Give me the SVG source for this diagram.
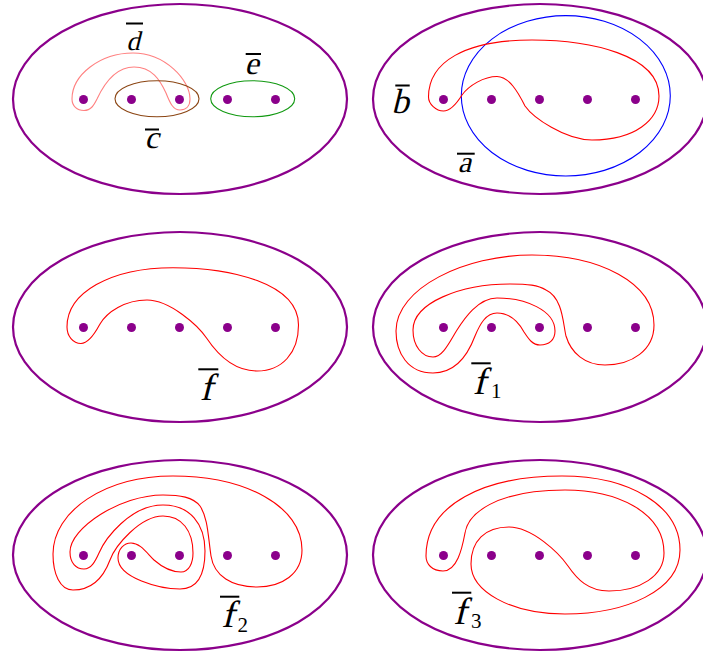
<svg xmlns="http://www.w3.org/2000/svg" xmlns:xlink="http://www.w3.org/1999/xlink" width="703" height="658" viewBox="0 0 703 658">
<style>
.frame{fill:none;stroke:#8B008B;stroke-width:2.2}
.dot{fill:#8B008B}
.red{fill:none;stroke:#FF0000;stroke-width:1.1}
.lbl{font-family:"Liberation Serif","Times New Roman",serif;fill:#000;text-anchor:middle}
.sub{font-family:"Liberation Serif","Times New Roman",serif;font-size:21px;fill:#000}
.bar{fill:#000}
</style>
<defs>
<g id="base">
<ellipse class="frame" cx="180" cy="99" rx="167" ry="95"/>
<circle class="dot" cx="83.5" cy="99.5" r="4.5"/>
<circle class="dot" cx="131.5" cy="99.5" r="4.5"/>
<circle class="dot" cx="179.5" cy="99.5" r="4.5"/>
<circle class="dot" cx="227.5" cy="99.5" r="4.5"/>
<circle class="dot" cx="275.5" cy="99.5" r="4.5"/>
</g>
</defs>
<rect width="703" height="658" fill="#fff"/>

<g id="panel1">
<use xlink:href="#base"/>
<g id="curves1">
<path id="curve-d" fill="none" stroke="#FF8080" stroke-width="1.1" d="M 72,99 C 72,106 77,110.5 84,110.5 C 91,110.5 94,105 97,99 C 104,84 115,67 134,67 C 152,67 160,80 166,93 C 170,103 173,110 180,110 C 186,110 190,106 190,99 C 190,80 165,53 133,53 C 100,53 72,75 72,99 Z"/>
<ellipse id="curve-c" cx="157" cy="98.7" rx="42" ry="18" fill="none" stroke="#8B4513" stroke-width="1.1"/>
<ellipse id="curve-e" cx="252.7" cy="98.7" rx="42" ry="18" fill="none" stroke="#119911" stroke-width="1.1"/>
</g>
<g id="labels1">
<rect class="bar" x="126" y="22.5" width="17" height="2"/>
<text class="lbl" transform="translate(133,50) skewX(-14)" font-size="27">d</text>
<rect class="bar" x="245.7" y="53" width="15.3" height="2"/>
<text class="lbl" transform="translate(251.5,74) skewX(-14)" font-size="32">e</text>
<rect class="bar" x="145" y="128.5" width="14" height="2"/>
<text class="lbl" transform="translate(151.5,148) skewX(-14)" font-size="32">c</text>
</g>
</g>

<g id="panel2" transform="translate(360,0)">
<use xlink:href="#base"/>
<ellipse id="curve-a" cx="205.8" cy="95.8" rx="104.5" ry="80.2" fill="none" stroke="#0000FF" stroke-width="1.1"/>
<path id="curve-b" class="red" d="M 68.5,97 C 68.5,104 76,111 83.5,111 C 90,111 97,103 102,95 C 109,85.3 124,76.5 137,76.5 C 149,76.5 158,92 165,106 C 173,117.5 205,140 232,140 C 275,140 299,120 299,96 C 299,55 230,40 172,40 C 105,40 68.5,62 68.5,97 Z"/>
<rect class="bar" x="35.3" y="84.5" width="14.4" height="2"/>
<text class="lbl" transform="translate(40,112.5) skewX(-14)" font-size="35">b</text>
<rect class="bar" x="97" y="152.7" width="17.7" height="2"/>
<text class="lbl" transform="translate(104.5,171.5) skewX(-14)" font-size="30">a</text>
</g>

<g id="panel3" transform="translate(0,228)">
<use xlink:href="#base"/>
<path id="curve-f" class="red" d="M 67,99 C 67,108 73,115.5 81,115.5 C 90,115.5 97.5,100.5 100,96 C 107,84 125,72 147,72 C 170,72 198.4,97.8 206.7,110.3 C 213.4,120.3 230,143 257,143 C 282,143 298.5,125 298.5,97 C 298.5,55 230,39.7 173,39.7 C 110,39.7 67,65 67,99 Z"/>
<rect class="bar" x="198.3" y="140.3" width="20" height="2"/>
<text class="lbl" transform="translate(206,172) skewX(-14)" font-size="38">f</text>
</g>

<g id="panel4" transform="translate(360,228)">
<use xlink:href="#base"/>
<path id="curve-f1" class="red" d="M 172,27 C 240,27 294,55 294,97 C 294,122 272,137 245,137 C 225,137 211,125 206,108 C 203,96 203,70 186,62 C 178,57 168,56 150,56 C 100,56 53,75 53,102 C 53,118 62,129 73,129 C 83,129 90,113 97,102 C 104,91 118,70 137,70 C 165,70 195,82 195,103 C 195,112 189,117 180,117 C 172,117 168,110 164,104 C 158,93 150,85 137,85 C 126,85 120,96 115,108 C 109,124 98,145 73,145 C 48,145 36,125 36,103 C 36,60 105,27 172,27 Z"/>
<rect class="bar" x="111.3" y="134.3" width="19.4" height="2"/>
<text class="lbl" transform="translate(119,166) skewX(-14)" font-size="38">f</text>
<text class="sub" x="131" y="169.7">1</text>
</g>

<g id="panel5" transform="translate(0,456)">
<use xlink:href="#base"/>
<path id="curve-f2" class="red" d="M 173,20 C 245,20 302,50 302,94 C 302,118 282,131 257,131 C 232,131 214,120 211,100 C 208,80 208,62 200,50 C 193,41 180,39 163,39 C 120,39 70,72 70,96 C 70,107 76,113 84,113 C 91,113 95,106 99,97 C 105,83 130,49 163,49 C 190,49 205,68 205,95 C 205,122 196,133 180,133 C 160,133 118,122 118,102 C 118,93 124,87 131,87 C 140,87 146,96 154,104 C 162,111 172,116 181,116 C 189,116 193,107 193,97 C 193,75 182,60 163,60 C 140,60 115,90 110,104 C 104.75,118 95,134 73,134 C 60,134 53,118 53,98 C 53,55 105,20 173,20 Z"/>
<rect class="bar" x="220" y="139.7" width="19.3" height="2"/>
<text class="lbl" transform="translate(227.5,171) skewX(-14)" font-size="38">f</text>
<text class="sub" x="237.5" y="175.7">2</text>
</g>

<g id="panel6" transform="translate(360,456)">
<use xlink:href="#base"/>
<path id="curve-f3" class="red" d="M 202,20 C 270,20 320,50 320,94 C 320,135 265,158 205,158 C 150,158 111,135 111,108 C 111,85 125,71 149,71 C 172,71 199,97 208,110 C 217,123 228,135 249,135 C 280,135 304,120 304,97 C 304,55 255,34 205,34 C 135,34 108,58 105,77 C 102,93 97,115 83,115 C 72,115 66,108 66,100 C 66,48 125,20 202,20 Z"/>
<rect class="bar" x="92" y="135.7" width="19.3" height="2"/>
<text class="lbl" transform="translate(99.5,168) skewX(-14)" font-size="38">f</text>
<text class="sub" x="111" y="172.3">3</text>
</g>
</svg>
